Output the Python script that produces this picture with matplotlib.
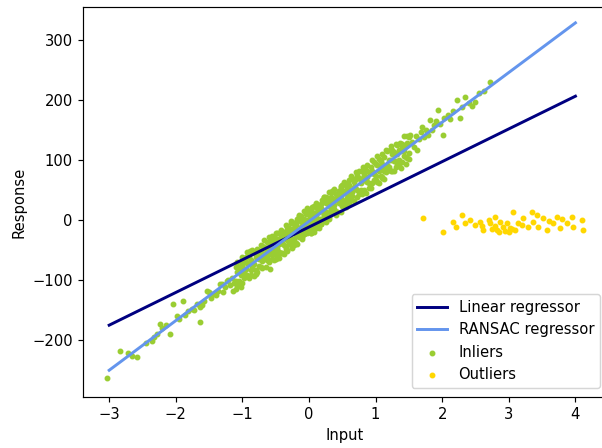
import matplotlib
matplotlib.use("Agg")
import matplotlib.pyplot as plt

# ---- data ----
inlier_pts = [
    # left tail
    (-3.03, -263), (-2.84, -218), (-2.72, -222), (-2.66, -226), (-2.58, -228), (-2.45, -205),
    (-2.36, -201), (-2.33, -195), (-2.28, -190), (-2.24, -173), (-2.20, -180), (-2.14, -175),
    (-2.09, -190), (-2.04, -140),
    (-1.98, -160), (-1.95, -165), (-1.89, -135), (-1.86, -158), (-1.82, -151), (-1.76, -148),
    (-1.72, -150), (-1.68, -140), (-1.64, -170), (-1.64, -145), (-1.60, -142), (-1.57, -135),
    (-1.53, -118),
    (-1.50, -120), (-1.47, -130), (-1.44, -123), (-1.40, -125), (-1.37, -118), (-1.34, -106),
    (-1.31, -106), (-1.29, -120), (-1.26, -112), (-1.23, -101), (-1.21, -100), (-1.19, -108),
    (-1.16, -96), (-1.14, -118), (-1.12, -104),
    (-1.00, -78), (-0.95, -70), (-0.90, -95), (-0.89, -52), (-0.80, -90), (-0.71, -55),
    (-0.59, -82),
    (0.81, 88), (1.10, 70), (1.22, 116), (1.37, 128),
    (1.52, 141), (1.55, 130), (1.58, 122), (1.60, 140), (1.62, 116), (1.65, 134), (1.68, 146),
    (1.70, 155), (1.73, 138), (1.76, 150), (1.79, 142), (1.82, 166), (1.85, 150),
    (1.88, 158), (1.91, 165), (1.94, 183), (1.97, 160), (2.01, 141), (2.03, 170),
    # right tail
    (2.08, 175), (2.12, 168), (2.16, 182), (2.22, 200), (2.27, 170), (2.30, 188),
    (2.34, 205), (2.40, 195), (2.44, 190), (2.49, 196), (2.55, 212), (2.62, 215), (2.72, 230),
]

# dense body of the cloud: column x and three y readings per column
core_x = [
    -1.100, -1.075, -1.050, -1.025, -1.000, -0.975, -0.950, -0.925, -0.900, -0.875,
    -0.850, -0.825, -0.800, -0.775, -0.750, -0.725, -0.700, -0.675, -0.650, -0.625,
    -0.600, -0.575, -0.550, -0.525, -0.500, -0.475, -0.450, -0.425, -0.400, -0.375,
    -0.350, -0.325, -0.300, -0.275, -0.250, -0.225, -0.200, -0.175, -0.150, -0.125,
    -0.100, -0.075, -0.050, -0.025, 0.000, 0.025, 0.050, 0.075, 0.100, 0.125,
    0.150, 0.175, 0.200, 0.225, 0.250, 0.275, 0.300, 0.325, 0.350, 0.375,
    0.400, 0.425, 0.450, 0.475, 0.500, 0.525, 0.550, 0.575, 0.600, 0.625,
    0.650, 0.675, 0.700, 0.725, 0.750, 0.775, 0.800, 0.825, 0.850, 0.875,
    0.900, 0.925, 0.950, 0.975, 1.000, 1.025, 1.050, 1.075, 1.100, 1.125,
    1.150, 1.175, 1.200, 1.225, 1.250, 1.275, 1.300, 1.325, 1.350, 1.375,
    1.400, 1.425, 1.450, 1.475, 1.500,
]
core_y = [
    (-79, -102, -115), (-108, -86, -70), (-87, -102, -78), (-111, -70, -91), (-76, -104, -62),
    (-89, -70, -97), (-61, -82, -91), (-92, -54, -72), (-72, -97, -61), (-84, -66, -92),
    (-50, -78, -71), (-73, -54, -93), (-57, -84, -61), (-86, -63, -48), (-58, -76, -65),
    (-78, -41, -52), (-43, -68, -80), (-63, -45, -34), (-55, -79, -47), (-66, -36, -60),
    (-28, -56, -67), (-57, -39, -30), (-34, -65, -49), (-66, -38, -29), (-38, -53, -21),
    (-56, -21, -50), (-21, -40, -63), (-39, -23, -29), (-25, -55, -32), (-56, -29, -20),
    (-45, -22, -9), (-12, -34, -50), (-29, -14, -38), (-1, -42, -21), (-32, -4, -46),
    (-14, -33, -6), (-38, -17, -8), (-2, -40, -22), (-18, 7, -29), (-2, -20, 6),
    (-32, -4, -11), (-5, -24, 15), (-17, 10, -13), (16, -7, -22), (-8, 10, -1),
    (16, -21, -10), (-15, 10, 22), (9, -9, -20), (5, 29, -3), (20, -10, 14),
    (-14, 14, 25), (20, 2, -7), (2, 33, 17), (38, 10, 1), (14, 29, -3),
    (36, 1, 30), (5, 24, 47), (27, 11, 17), (17, 47, 24), (52, 25, 16),
    (8, 35, 44), (43, 13, 36), (33, 49, 43), (55, 36, 13), (24, 59, 30),
    (46, 31, 63), (22, 50, 59), (58, 27, 43), (40, 58, 67), (74, 46, 35),
    (40, 70, 46), (55, 31, 63), (51, 69, 80), (75, 50, 38), (44, 81, 70),
    (68, 50, 61), (44, 67, 82), (77, 50, 73), (65, 84, 45), (92, 64, 71),
    (62, 80, 54), (78, 53, 89), (62, 100, 82), (97, 76, 67), (74, 93, 66),
    (92, 64, 106), (61, 102, 81), (89, 74, 98), (72, 94, 110), (105, 82, 69),
    (116, 89, 80), (85, 115, 92), (99, 83, 89), (81, 100, 123), (116, 81, 110),
    (98, 113, 81), (126, 98, 89), (94, 125, 109), (117, 99, 90), (87, 115, 126),
    (126, 96, 120), (115, 139, 107), (123, 105, 94), (103, 128, 140), (138, 101, 112),
]

# extra readings where the cloud is densest (x from -0.6 to 0.6)
centre_x = [
    -0.600, -0.575, -0.550, -0.525, -0.500, -0.475, -0.450, -0.425, -0.400, -0.375,
    -0.350, -0.325, -0.300, -0.275, -0.250, -0.225, -0.200, -0.175, -0.150, -0.125,
    -0.100, -0.075, -0.050, -0.025, 0.000, 0.025, 0.050, 0.075, 0.100, 0.125,
    0.150, 0.175, 0.200, 0.225, 0.250, 0.275, 0.300, 0.325, 0.350, 0.375,
    0.400, 0.425, 0.450, 0.475, 0.500, 0.525, 0.550, 0.575, 0.600,
]
centre_y = [
    (-45, -70), (-52, -34), (-27, -55), (-57, -43), (-32, -65), (-47, -32), (-35, -53),
    (-55, -16), (-20, -38), (-42, -26), (-29, -48), (-51, -17), (-18, -33), (-39, -5),
    (-18, -34), (-41, -18), (-6, -26), (-20, 2), (8, -27), (-22, -11), (-4, -29),
    (-23, 2), (12, -8), (-11, 20), (1, -17), (-21, 6), (14, -2), (2, 23), (22, -14),
    (-5, 12), (18, 1), (-6, 27), (16, -2), (8, 39), (38, 14), (5, 29), (33, 2),
    (20, 39), (48, 15), (18, 31), (37, 13), (13, 44), (49, 28), (34, 56), (48, 25),
    (24, 45), (60, 33), (37, 57), (51, 28),
]

outlier_pts = [
    (1.71, 3), (2.01, -20), (2.16, -3), (2.20, -12), (2.30, 8), (2.34, -5), (2.42, 0),
    (2.49, -8), (2.57, -3), (2.60, -10), (2.61, -17), (2.70, 0), (2.72, -5), (2.75, -15),
    (2.79, 5), (2.80, -10), (2.82, -17), (2.85, -20), (2.87, -3), (2.91, -12), (2.95, -18),
    (2.97, -5), (3.00, -20), (3.02, -13), (3.05, -15), (3.06, 13), (3.09, -17), (3.14, -5),
    (3.20, -8), (3.21, 3), (3.29, -12), (3.35, 13), (3.36, -3), (3.42, 8), (3.44, -12),
    (3.51, 3), (3.57, -17), (3.60, -2), (3.66, -5), (3.72, 5), (3.77, -13), (3.80, 2),
    (3.87, -5), (3.95, 5), (3.96, -12), (4.10, 0), (4.11, -17),
]

line_X = [-3.0, 4.0]
line_y_linear = [-175, 206]
line_y_ransac = [-250, 328]

# ---- assemble ----
inl_x = [p[0] for p in inlier_pts]
inl_y = [p[1] for p in inlier_pts]
for xs, yss in ((core_x, core_y), (centre_x, centre_y)):
    for cx, ys in zip(xs, yss):
        for yy in ys:
            inl_x.append(cx)
            inl_y.append(yy)
out_x = [p[0] for p in outlier_pts]
out_y = [p[1] for p in outlier_pts]

# ---- figure ----
DPI = 106
fig = plt.figure(figsize=(602 / DPI, 448 / DPI), dpi=DPI)
ax = fig.add_axes([83 / 602, 51 / 448, (607 - 83) / 602, 390 / 448])

ax.scatter(inl_x, inl_y, color="yellowgreen", marker=".", label="Inliers")
ax.scatter(out_x, out_y, color="gold", marker=".", label="Outliers")
ax.plot(line_X, line_y_linear, color="navy", linewidth=2, label="Linear regressor")
ax.plot(line_X, line_y_ransac, color="cornflowerblue", linewidth=2, label="RANSAC regressor")

ax.set_xlim(-3.393, 4.474)
ax.set_ylim(-294.5, 354.4)
ax.set_xticks([-3, -2, -1, 0, 1, 2, 3, 4])
ax.set_yticks([-200, -100, 0, 100, 200, 300])

handles, labels = ax.get_legend_handles_labels()
order = [2, 3, 0, 1]
ax.legend([handles[i] for i in order], [labels[i] for i in order],
          loc="lower right", bbox_to_anchor=(600 / 602, (448 - 388) / 448),
          bbox_transform=fig.transFigure, borderaxespad=0)
ax.set_xlabel("Input")
ax.set_ylabel("Response")

fig.savefig("out.png", dpi=DPI)
